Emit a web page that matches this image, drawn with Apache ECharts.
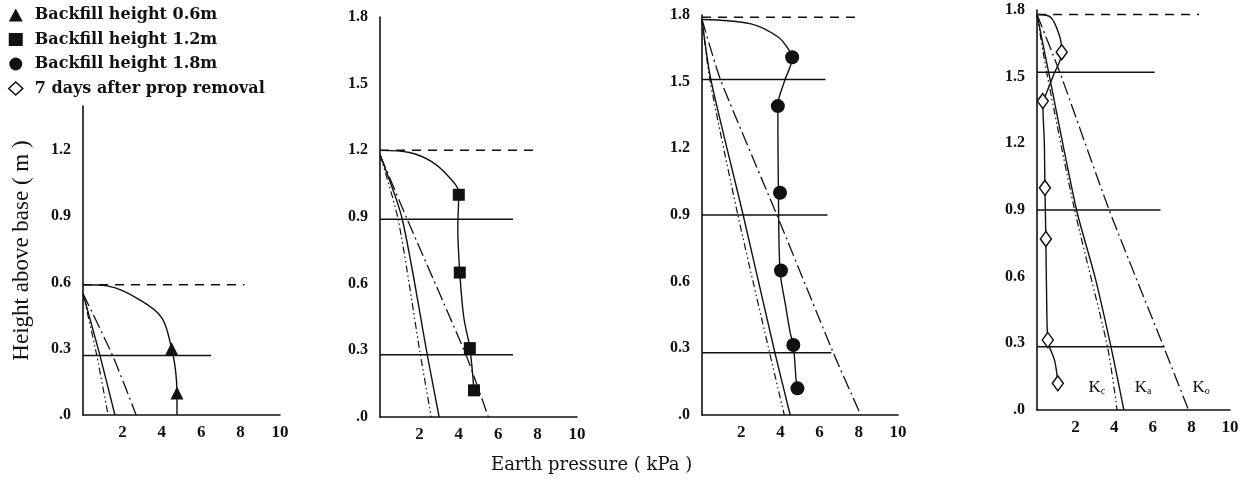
<!DOCTYPE html>
<html><head><meta charset="utf-8">
<script src="https://cdn.jsdelivr.net/npm/echarts@6/dist/echarts.min.js"></script>
<style>html,body{margin:0;padding:0;background:#fff}#c{width:1246px;height:493px}</style>
</head><body><div id="c"></div>
<script>
// ---------- data (x = earth pressure kPa, y = height above base m) ----------
const xTickValues = [2, 4, 6, 8, 10];
const legendNames = ['Backfill height 0.6m', 'Backfill height 1.2m', 'Backfill height 1.8m', '7 days after prop removal'];
const kLabels = [[3.1, 0.1, 'c'], [5.5, 0.1, 'a'], [8.5, 0.1, 'o']];

// Panel 1 : backfill 0.6 m
const p1Backfill = [[0, 0.59], [8.2, 0.59]];
const p1Gauges = [[[0, 0.27], [6.5, 0.27]]];
const p1Measured = [[0, 0.59], [1.2, 0.585], [2.9, 0.52], [4.0, 0.44], [4.5, 0.30], [4.7, 0.2], [4.77, 0.10], [4.77, 0.0]];
const p1Points = [[4.5, 0.30], [4.77, 0.10]];
const p1Kc = [[0, 0.55], [0.7, 0.27], [1.27, 0]];
const p1Ka = [[0, 0.55], [0.86, 0.27], [1.62, 0]];
const p1K0 = [[0, 0.55], [1.5, 0.27], [2.7, 0]];

// Panel 2 : backfill 1.2 m
const p2Backfill = [[0, 1.2], [8.0, 1.2]];
const p2Gauges = [[[0, 0.89], [6.75, 0.89]], [[0, 0.28], [6.75, 0.28]]];
const p2Measured = [[0, 1.2], [1.5, 1.19], [2.6, 1.15], [3.5, 1.08], [4.0, 1.01], [3.95, 0.85], [4.05, 0.65], [4.25, 0.45], [4.56, 0.31], [4.77, 0.12]];
const p2Points = [[4.0, 1.0], [4.05, 0.65], [4.56, 0.31], [4.77, 0.12]];
const p2Kc = [[0, 1.18], [0.92, 0.89], [2.05, 0.28], [2.6, 0]];
const p2Ka = [[0, 1.18], [1.13, 0.89], [2.4, 0.28], [3.0, 0]];
const p2K0 = [[0, 1.18], [1.38, 0.89], [4.36, 0.28], [5.5, 0]];

// Panel 3 : backfill 1.8 m
const p3Backfill = [[0, 1.79], [8.0, 1.79]];
const p3Gauges = [[[0, 1.51], [6.3, 1.51]], [[0, 0.9], [6.4, 0.9]], [[0, 0.28], [6.6, 0.28]]];
const p3Measured = [[0, 1.78], [2.5, 1.76], [3.9, 1.70], [4.45, 1.64], [4.6, 1.61], [4.2, 1.5], [3.87, 1.39], [3.9, 1.0], [3.98, 0.65], [4.25, 0.5], [4.5, 0.37], [4.66, 0.315], [4.8, 0.16], [4.87, 0.12]];
const p3Points = [[4.6, 1.61], [3.87, 1.39], [3.98, 1.0], [4.03, 0.65], [4.66, 0.315], [4.87, 0.12]];
const p3Kc = [[0, 1.78], [0.4, 1.51], [1.83, 0.9], [3.45, 0.28], [4.2, 0]];
const p3Ka = [[0, 1.78], [0.45, 1.51], [2.1, 0.9], [3.72, 0.28], [4.5, 0]];
const p3K0 = [[0, 1.78], [0.94, 1.51], [3.82, 0.9], [6.7, 0.28], [8.1, 0]];

// Panel 4 : 7 days after prop removal
const p4Backfill = [[0, 1.78], [8.4, 1.78]];
const p4Gauges = [[[0, 1.52], [6.1, 1.52]], [[0, 0.9], [6.4, 0.9]], [[0, 0.285], [6.6, 0.285]]];
const p4Measured = [[0, 1.78], [0.67, 1.77], [1.18, 1.68], [1.28, 1.61], [0.82, 1.5], [0.41, 1.41], [0.3, 1.39], [0.38, 1.2], [0.41, 1.0], [0.46, 0.77], [0.5, 0.5], [0.56, 0.315], [0.92, 0.22], [1.08, 0.12]];
const p4Points = [[1.28, 1.61], [0.3, 1.39], [0.41, 1.0], [0.46, 0.77], [0.56, 0.315], [1.08, 0.12]];
const p4Kc = [[0, 1.78], [0.5, 1.52], [1.95, 0.9], [3.65, 0.285], [4.15, 0]];
const p4Ka = [[0, 1.78], [0.6, 1.52], [2.05, 0.9], [3.0, 0.6], [3.83, 0.285], [4.5, 0]];
const p4K0 = [[0, 1.78], [1.18, 1.52], [3.74, 0.9], [6.56, 0.285], [7.85, 0]];

// ---------- build ----------
const INK = '#111';
const panels = [
  {bf: p1Backfill, g: p1Gauges, m: p1Measured, pts: p1Points, kc: p1Kc, ka: p1Ka, k0: p1K0, sym: 'triangle', size: 13, fill: INK},
  {bf: p2Backfill, g: p2Gauges, m: p2Measured, pts: p2Points, kc: p2Kc, ka: p2Ka, k0: p2K0, sym: 'rect', size: 12, fill: INK},
  {bf: p3Backfill, g: p3Gauges, m: p3Measured, pts: p3Points, kc: p3Kc, ka: p3Ka, k0: p3K0, sym: 'circle', size: 14, fill: INK},
  {bf: p4Backfill, g: p4Gauges, m: p4Measured, pts: p4Points, kc: p4Kc, ka: p4Ka, k0: p4K0, sym: 'diamond', size: [11, 15], fill: '#fff'}
];
const grids = [
  {left: 83, width: 197, top: 106, bottom: 78},
  {left: 380, width: 197, top: 17, bottom: 76},
  {left: 702, width: 196, top: 15, bottom: 78},
  {left: 1037, width: 193, top: 10, bottom: 83}
];
const yMax = [1.4, 1.8, 1.8, 1.8];

function ln(i, data, type, smooth, width) {
  return {type: 'line', xAxisIndex: i, yAxisIndex: i, data: data, symbol: 'none', smooth: smooth || false,
    silent: true, lineStyle: {color: INK, width: width || 1.3, type: type || 'solid'}, z: 2};
}
const series = [];
panels.forEach((p, i) => {
  series.push(ln(i, p.bf, [9, 7], false, 1.5));
  p.g.forEach(g => series.push(ln(i, g, 'solid', false, 1.5)));
  series.push(ln(i, p.kc, [7, 3, 1.5, 3, 1.5, 3], 0.25, 1.2));
  series.push(ln(i, p.ka, 'solid', 0.25, 1.4));
  series.push(ln(i, p.k0, [14, 4, 2, 4], 0.2, 1.3));
  series.push(ln(i, p.m, 'solid', 0.35, 1.4));
  series.push({type: 'scatter', name: legendNames[i], xAxisIndex: i, yAxisIndex: i, data: p.pts,
    symbol: p.sym, symbolSize: p.size, z: 5,
    itemStyle: {color: p.fill, opacity: 1, borderColor: INK, borderWidth: i === 3 ? 1.5 : 0}});
});
series.push({type: 'scatter', xAxisIndex: 3, yAxisIndex: 3, data: kLabels, symbolSize: 0, silent: true,
  itemStyle: {opacity: 1, color: INK},
  label: {show: true, position: 'inside', color: INK, formatter: p => '{k|K}{s|' + p.value[2] + '}',
    rich: {k: {fontFamily: 'Liberation Serif', fontSize: 17, color: INK},
           s: {fontFamily: 'Liberation Serif', fontSize: 10, color: INK, verticalAlign: 'bottom', padding: [7, 0, 0, 0]}}}});

const serif = 'Liberation Serif';
const option = {
  backgroundColor: '#fff',
  animation: false,
  title: {text: 'Earth pressure ( kPa )', left: 486, top: 451,
    textStyle: {fontFamily: 'DejaVu Serif', fontSize: 18, fontWeight: 'normal', color: INK}},
  legend: {orient: 'vertical', left: 3, top: 2, itemWidth: 14, itemHeight: 13, itemGap: 8.5,
    selectedMode: false,
    textStyle: {fontFamily: 'DejaVu Serif', fontSize: 16, fontWeight: 'bold', color: INK, padding: [0, 0, 0, 7]},
    data: [
      {name: legendNames[0], icon: 'triangle'},
      {name: legendNames[1], icon: 'rect'},
      {name: legendNames[2], icon: 'circle'},
      {name: legendNames[3], icon: 'diamond', itemStyle: {color: '#fff', borderColor: INK, borderWidth: 1.5}}
    ]},
  grid: grids,
  xAxis: grids.map((g, i) => ({type: 'value', gridIndex: i, min: 0, max: 10, interval: 2,
    axisLine: {show: true, lineStyle: {color: INK, width: 1.6}}, axisTick: {show: false}, splitLine: {show: false},
    axisLabel: {margin: 9, fontFamily: serif, fontSize: 17, fontWeight: 'bold', color: INK,
      formatter: v => xTickValues.indexOf(v) >= 0 ? String(v) : ''}})),
  yAxis: grids.map((g, i) => ({type: 'value', gridIndex: i, min: 0, max: yMax[i], interval: 0.3,
    name: i === 0 ? 'Height above base ( m )' : '', nameLocation: 'middle', nameGap: 50,
    nameTextStyle: {fontFamily: serif, fontSize: 23, color: INK, padding: [0, 0, 0, 20]},
    axisLine: {show: true, lineStyle: {color: INK, width: 1.6}}, axisTick: {show: false}, splitLine: {show: false},
    axisLabel: {margin: 12, fontFamily: serif, fontSize: 16, fontWeight: 'bold', color: INK,
      formatter: v => {
        const r = v / 0.3;
        if (Math.abs(r - Math.round(r)) > 1e-6) return '';
        return v === 0 ? '.0' : v.toFixed(1);
      }}})),
  series: series
};
echarts.init(document.getElementById('c')).setOption(option);
</script></body></html>
